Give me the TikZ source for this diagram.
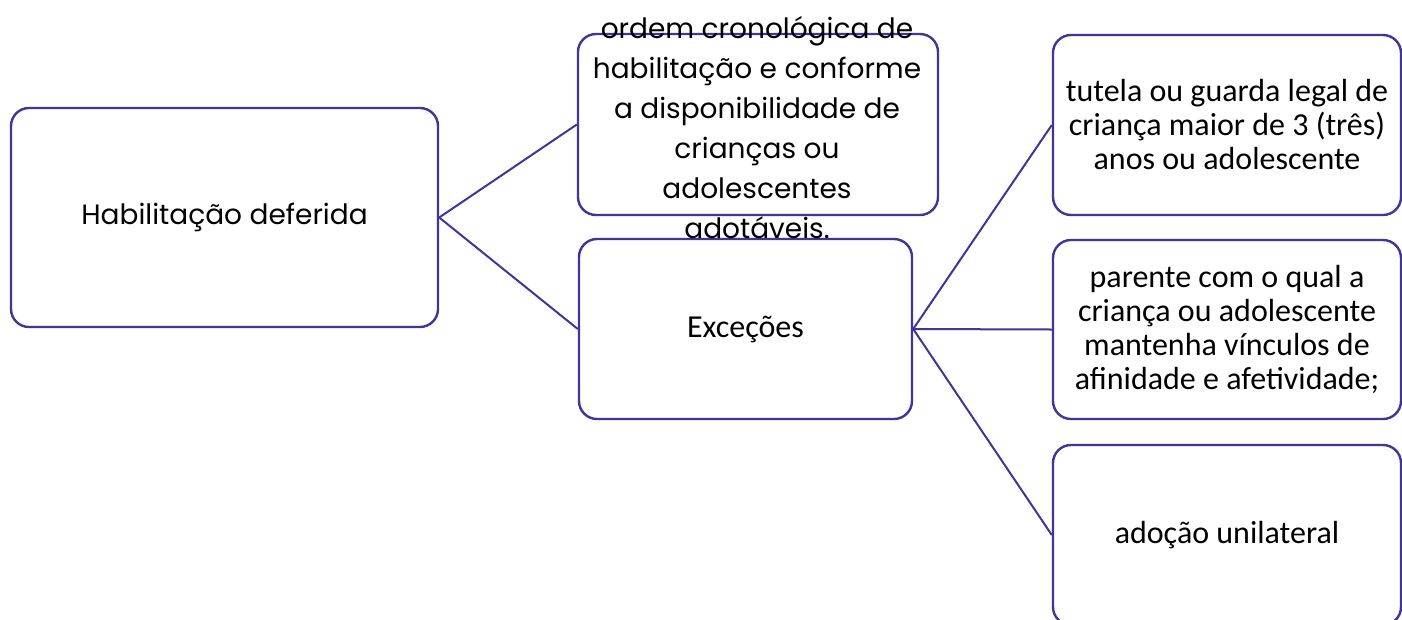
\documentclass[tikz,border=0pt]{standalone}
\usepackage{fontspec}
\newfontfamily\geofont{Poppins}
\newfontfamily\calfont{Carlito}
\definecolor{edge}{RGB}{66,52,152}
\begin{document}
\begin{tikzpicture}[x=1pt,y=-1pt,
  box/.style={draw=edge,line width=2.4pt,rounded corners=18pt,fill=white,inner sep=0pt,align=center},
  conn/.style={draw=edge,line width=2pt},
  caltext/.style={font=\calfont\fontsize{32}{34}\selectfont},
  geotext/.style={font=\geofont\fontsize{28}{40}\selectfont}]
\useasboundingbox (0,0) rectangle (1402,619);
\clip (0,0) rectangle (1402,619);
\fill[white] (0,0) rectangle (1402,619);
\node[box,minimum width=427pt,minimum height=219pt,geotext] (b1) at (224.5,217.5) {Habilitação deferida};
\node[box,minimum width=360pt,minimum height=181pt] (b2) at (758,124.5) {};
\node[box,minimum width=333pt,minimum height=180pt,caltext] (b3) at (745.5,329) {Exceções};
\node[box,minimum width=348pt,minimum height=180pt,caltext] (b4) at (1227,125) {tutela ou guarda legal de\\criança maior de 3 (três)\\anos ou adolescente};
\node[box,minimum width=348pt,minimum height=179pt,caltext] (b5) at (1227,329.5) {parente com o qual a\\criança ou adolescente\\mantenha vínculos de\\afinidade e afetividade;};
\node[box,minimum width=348pt,minimum height=180pt,caltext] (b6) at (1227,535) {adoção unilateral};
\node[align=center,geotext,inner sep=0pt] (t2) at (757,128) {ordem cronológica de\\habilitação e conforme\\a disponibilidade de\\crianças ou\\adolescentes\\adotáveis.};
\draw[conn] (b1.east) -- (b2.west);
\draw[conn] (b1.east) -- (b3.west);
\draw[conn] (b3.east) -- (b4.west);
\draw[conn] (b3.east) -- (b5.west);
\draw[conn] (b3.east) -- (b6.west);
\end{tikzpicture}
\end{document}
